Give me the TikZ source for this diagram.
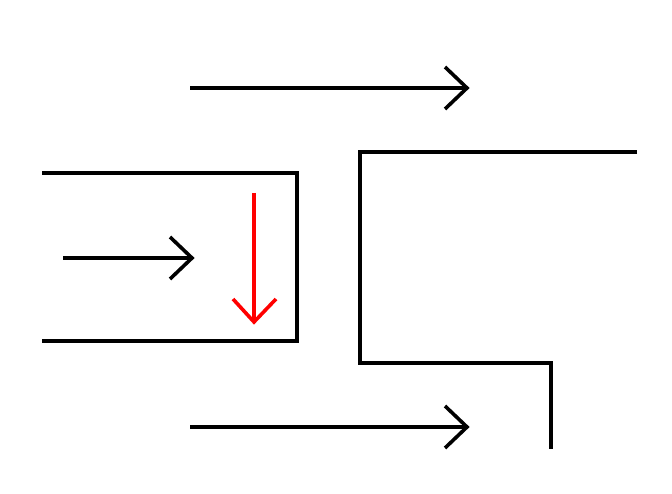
\documentclass[tikz,border=0pt]{standalone}
\begin{document}
\begin{tikzpicture}[x=1pt,y=-1pt,
  stroke/.style={line width=3.6pt,black},
  redstroke/.style={line width=3.6pt,red}]
\useasboundingbox (0,0) rectangle (672,494);
% top arrow
\coordinate (ta1) at (190,88);
\coordinate (ta2) at (467,88);
\coordinate (tah1) at (445,67);
\coordinate (tah2) at (445,109);
\draw[stroke] (ta1) -- (ta2);
\draw[stroke,line join=miter] (tah1) -- (ta2) -- (tah2);
% left box
\coordinate (b1) at (42,173);
\coordinate (b2) at (297,173);
\coordinate (b3) at (297,341);
\coordinate (b4) at (42,341);
\draw[stroke] (b1) -- (b2) -- (b3) -- (b4);
% inner arrow
\coordinate (ia1) at (63,258);
\coordinate (ia2) at (192,258);
\coordinate (iah1) at (170,237);
\coordinate (iah2) at (170,279);
\draw[stroke] (ia1) -- (ia2);
\draw[stroke] (iah1) -- (ia2) -- (iah2);
% red arrow
\coordinate (ra1) at (254,193);
\coordinate (ra2) at (254,322);
\coordinate (rah1) at (233,299);
\coordinate (rah2) at (276,299);
\draw[redstroke] (ra1) -- (ra2);
\draw[redstroke] (rah1) -- (ra2) -- (rah2);
% right shape
\coordinate (r1) at (637,152);
\coordinate (r2) at (360,152);
\coordinate (r3) at (360,363);
\coordinate (r4) at (551,363);
\coordinate (r5) at (551,449);
\draw[stroke] (r1) -- (r2) -- (r3) -- (r4) -- (r5);
% bottom arrow
\coordinate (ba1) at (190,427);
\coordinate (ba2) at (467,427);
\coordinate (bah1) at (445,406);
\coordinate (bah2) at (445,448);
\draw[stroke] (ba1) -- (ba2);
\draw[stroke] (bah1) -- (ba2) -- (bah2);
\end{tikzpicture}
\end{document}
